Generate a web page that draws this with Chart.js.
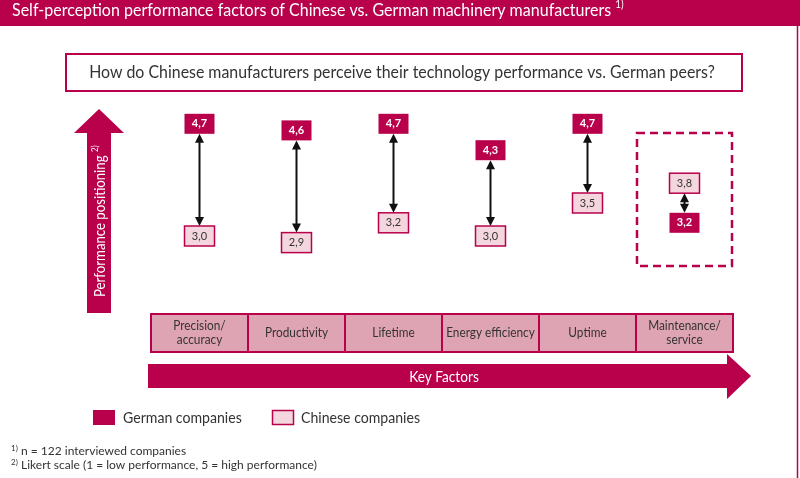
<!DOCTYPE html>
<html>
<head>
<meta charset="utf-8">
<script src="https://cdn.jsdelivr.net/npm/chart.js@4.4.1/dist/chart.umd.min.js"></script>
<style>
  html, body { margin: 0; padding: 0; background: #fff; }
  #wrap { width: 800px; height: 478px; position: relative; }
</style>
</head>
<body>
<div id="wrap"><canvas id="chart"></canvas></div>
<script>
// Key factors (x) and Likert scores (y)
const categories = [
  ['Precision/', 'accuracy'],
  ['Productivity'],
  ['Lifetime'],
  ['Energy efficiency'],
  ['Uptime'],
  ['Maintenance/', 'service']
];
const germanValues = [4.7, 4.6, 4.7, 4.3, 4.7, 3.2];
const chineseValues = [3.0, 2.9, 3.2, 3.0, 3.5, 3.8];
const seriesNames = ['German companies', 'Chinese companies'];
const highlightIndex = 5;

const titleText = 'Self-perception performance factors of Chinese vs. German machinery manufacturers';
const questionText = 'How do Chinese manufacturers perceive their technology performance vs. German peers?';
const footnotes = [
  ['1)', 'n = 122 interviewed companies'],
  ['2)', 'Likert scale (1 = low performance, 5 = high performance)']
];

const CRIMSON = '#b8004b';
const CELL_PINK = '#dfa4b3';
const LIGHT_PINK = '#f4d6de';
const TEXT = '#333333';
const FONT = 'Lato, "Open Sans", sans-serif';
const BOX_W = 30, BOX_H = 20;
// the original face is narrower than Lato, so text is squeezed a little
const SQUEEZE = 0.91;

const fmt = v => v.toFixed(1).replace('.', ',');

// draw text squeezed horizontally by factor sx, left/center aligned at x
function squeezed(ctx, text, x, y, sx, align) {
  ctx.save();
  ctx.translate(x, y);
  ctx.scale(sx, 1);
  ctx.textAlign = align || 'left';
  ctx.fillText(text, 0, 0);
  ctx.restore();
  return ctx.measureText(text).width * sx;
}

// text followed by a small raised note like "1)"
function textWithSup(ctx, text, sup, x, y, size, color, sx) {
  ctx.fillStyle = color;
  ctx.font = size + 'px ' + FONT;
  ctx.textBaseline = 'middle';
  const w = squeezed(ctx, text + ' ', x, y, sx);
  ctx.font = Math.round(size * 0.62) + 'px ' + FONT;
  squeezed(ctx, sup, x + w, y - size * 0.3, sx);
}

function arrowHead(ctx, x, y, dir) {
  // dir: -1 pointing up, 1 pointing down
  ctx.beginPath();
  ctx.moveTo(x, y);
  ctx.lineTo(x - 4.5, y - dir * 9);
  ctx.lineTo(x + 4.5, y - dir * 9);
  ctx.closePath();
  ctx.fill();
}

const framePlugin = {
  id: 'frame',
  beforeDraw(chart) {
    const ctx = chart.ctx;
    const xs = chart.scales.x;
    ctx.save();
    ctx.fillStyle = '#fff';
    ctx.fillRect(0, 0, chart.width, chart.height);

    // title bar
    ctx.fillStyle = CRIMSON;
    ctx.fillRect(0, 0, 800, 26);
    textWithSup(ctx, titleText, '1)', 12, 10, 18, '#fff', 0.89);

    // right frame line
    ctx.strokeStyle = CRIMSON;
    ctx.lineWidth = 1.5;
    ctx.beginPath();
    ctx.moveTo(797.5, 26);
    ctx.lineTo(797.5, 478);
    ctx.stroke();

    // question box
    ctx.lineWidth = 2;
    ctx.strokeRect(66, 54, 676, 37);
    ctx.fillStyle = TEXT;
    ctx.font = '17px ' + FONT;
    ctx.textBaseline = 'middle';
    squeezed(ctx, questionText, 402, 73, 0.935, 'center');

    // vertical performance arrow
    ctx.fillStyle = CRIMSON;
    ctx.beginPath();
    ctx.moveTo(99, 109);
    ctx.lineTo(124, 133);
    ctx.lineTo(111, 133);
    ctx.lineTo(111, 313);
    ctx.lineTo(87, 313);
    ctx.lineTo(87, 133);
    ctx.lineTo(74, 133);
    ctx.closePath();
    ctx.fill();
    ctx.save();
    ctx.translate(100, 220);
    ctx.rotate(-Math.PI / 2);
    textWithSup(ctx, 'Performance positioning', '2)', -77, 0, 15, '#fff', 0.88);
    ctx.restore();

    // key factor strip built from the category scale
    const step = xs.getPixelForValue(1) - xs.getPixelForValue(0);
    const top = 314, h = 38;
    categories.forEach((lines, i) => {
      const cx = xs.getPixelForValue(i);
      const x0 = cx - step / 2;
      ctx.fillStyle = CELL_PINK;
      ctx.fillRect(x0, top, step, h);
      ctx.strokeStyle = CRIMSON;
      ctx.lineWidth = 2;
      ctx.strokeRect(x0, top, step, h);
      ctx.fillStyle = TEXT;
      ctx.font = '13px ' + FONT;
      ctx.textBaseline = 'middle';
      const lh = 14;
      lines.forEach((t, k) => {
        squeezed(ctx, t, cx, top + h / 2 + (k - (lines.length - 1) / 2) * lh, SQUEEZE, 'center');
      });
    });

    // horizontal key factors arrow
    const left = xs.getPixelForValue(0) - step / 2 - 3;
    ctx.fillStyle = CRIMSON;
    ctx.beginPath();
    ctx.moveTo(left, 364);
    ctx.lineTo(727, 364);
    ctx.lineTo(727, 354);
    ctx.lineTo(751, 376);
    ctx.lineTo(727, 399);
    ctx.lineTo(727, 388);
    ctx.lineTo(left, 388);
    ctx.closePath();
    ctx.fill();
    ctx.fillStyle = '#fff';
    ctx.font = '15px ' + FONT;
    squeezed(ctx, 'Key Factors', 444, 377, SQUEEZE, 'center');

    // legend
    ctx.fillStyle = CRIMSON;
    ctx.fillRect(93, 410, 22, 15);
    ctx.fillStyle = LIGHT_PINK;
    ctx.fillRect(272, 410, 22, 15);
    ctx.strokeStyle = CRIMSON;
    ctx.lineWidth = 1.5;
    ctx.strokeRect(272.5, 410.5, 21, 14);
    ctx.fillStyle = TEXT;
    ctx.font = '15px ' + FONT;
    squeezed(ctx, seriesNames[0], 123, 418, 0.94);
    squeezed(ctx, seriesNames[1], 301, 418, 0.94);

    // footnotes
    footnotes.forEach((f, k) => {
      const y = 451 + k * 14;
      ctx.fillStyle = TEXT;
      ctx.font = '8px ' + FONT;
      ctx.textAlign = 'left';
      ctx.fillText(f[0], 11, y - 3);
      ctx.font = '12px ' + FONT;
      ctx.fillText(f[1], 21, y);
    });
    ctx.restore();
  },
  afterDatasetsDraw(chart) {
    const ctx = chart.ctx;
    const xs = chart.scales.x;
    const g = chart.getDatasetMeta(0).data;
    const c = chart.getDatasetMeta(1).data;
    ctx.save();

    // dashed highlight around the last factor
    const step = xs.getPixelForValue(1) - xs.getPixelForValue(0);
    const hx = xs.getPixelForValue(highlightIndex);
    ctx.strokeStyle = CRIMSON;
    ctx.lineWidth = 2.5;
    ctx.setLineDash([8, 5]);
    ctx.strokeRect(hx - step / 2 + 1, 133, step - 2, 133);
    ctx.setLineDash([]);

    g.forEach((gp, i) => {
      const cp = c[i];
      const x = gp.x;
      const down = gp.y < cp.y;
      const y1 = down ? gp.y + BOX_H / 2 : gp.y - BOX_H / 2;
      const y2 = down ? cp.y - BOX_H / 2 : cp.y + BOX_H / 2;
      const dir = down ? 1 : -1;
      ctx.strokeStyle = '#111';
      ctx.fillStyle = '#111';
      ctx.lineWidth = 2;
      ctx.beginPath();
      ctx.moveTo(x, y1 + dir * 8);
      ctx.lineTo(x, y2 - dir * 8);
      ctx.stroke();
      arrowHead(ctx, x, y1, -dir);
      arrowHead(ctx, x, y2, dir);

      ctx.textAlign = 'center';
      ctx.textBaseline = 'middle';

      // German box
      ctx.fillStyle = CRIMSON;
      ctx.fillRect(x - BOX_W / 2, gp.y - BOX_H / 2, BOX_W, BOX_H);
      ctx.fillStyle = '#fff';
      ctx.font = 'bold 11px ' + FONT;
      ctx.fillText(fmt(germanValues[i]), x, gp.y);

      // Chinese box
      ctx.fillStyle = LIGHT_PINK;
      ctx.fillRect(x - BOX_W / 2, cp.y - BOX_H / 2, BOX_W, BOX_H);
      ctx.strokeStyle = CRIMSON;
      ctx.lineWidth = 1.5;
      ctx.strokeRect(x - BOX_W / 2, cp.y - BOX_H / 2, BOX_W, BOX_H);
      ctx.fillStyle = TEXT;
      ctx.font = '11px ' + FONT;
      ctx.fillText(fmt(chineseValues[i]), x, cp.y);
    });
    ctx.restore();
  }
};

new Chart(document.getElementById('chart'), {
  type: 'line',
  data: {
    labels: categories.map(l => l.join(' ')),
    datasets: [
      { label: seriesNames[0], data: germanValues, showLine: false, pointRadius: 0 },
      { label: seriesNames[1], data: chineseValues, showLine: false, pointRadius: 0 }
    ]
  },
  options: {
    responsive: true,
    maintainAspectRatio: false,
    animation: false,
    layout: { padding: { left: 151, right: 67, top: 104, bottom: 209 } },
    plugins: { legend: { display: false }, tooltip: { enabled: false } },
    scales: {
      x: { type: 'category', offset: true, display: false },
      y: { min: 2.5, max: 5.0, display: false }
    }
  },
  plugins: [framePlugin]
});
</script>
</body>
</html>
